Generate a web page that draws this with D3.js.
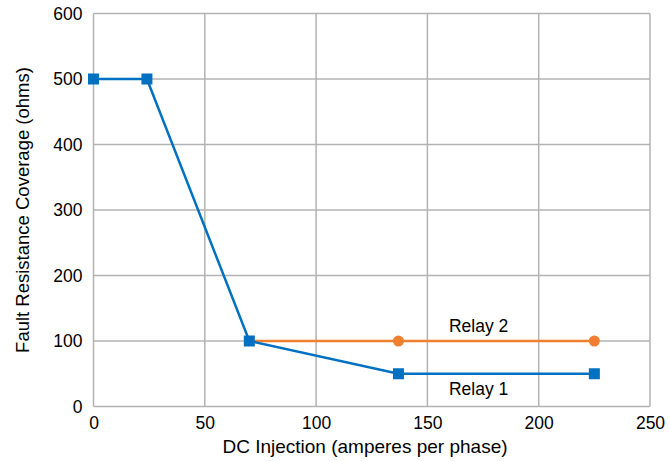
<!DOCTYPE html>
<html><head><meta charset="utf-8">
<script src="https://cdn.jsdelivr.net/npm/d3@7"></script>
<style>body{margin:0;background:#fff}svg{display:block}text{font-family:"Liberation Sans",Arial,sans-serif;fill:#000}</style>
</head><body>
<svg id="c" width="670" height="461"></svg>
<script>
const relay1X = [0, 24, 70, 137, 225];
const relay1Y = [500, 500, 100, 50, 50];
const relay2X = [70, 137, 225];
const relay2Y = [100, 100, 100];
const xTicks = [0, 50, 100, 150, 200, 250];
const yTicks = [0, 100, 200, 300, 400, 500, 600];
const seriesNames = ["Relay 1", "Relay 2"];

const svg = d3.select("#c");
const m = {l: 93.5, r: 650, t: 13.5, b: 406.5};
const x = d3.scaleLinear().domain([0, 250]).range([m.l, m.r]);
const y = d3.scaleLinear().domain([0, 600]).range([m.b, m.t]);

const grid = svg.append("g");
grid.selectAll("line.v").data(xTicks).join("line")
  .attr("x1", d => x(d)).attr("x2", d => x(d)).attr("y1", m.t).attr("y2", m.b)
  .attr("stroke", "#b3b3b3").attr("stroke-width", 1.5);
grid.selectAll("line.h").data(yTicks).join("line")
  .attr("y1", d => y(d)).attr("y2", d => y(d)).attr("x1", m.l).attr("x2", m.r)
  .attr("stroke", "#b3b3b3").attr("stroke-width", 1.5);

const xAxis = svg.append("g").attr("transform", `translate(0,${m.b})`)
  .call(d3.axisBottom(x).tickValues(xTicks).tickSize(0).tickPadding(10));
xAxis.select(".domain").remove();
xAxis.selectAll("text").attr("font-size", 17.5).attr("font-family", "Liberation Sans, Arial, sans-serif").attr("fill", "#000");

const yAxis = svg.append("g").attr("transform", `translate(${m.l},0)`)
  .call(d3.axisLeft(y).tickValues(yTicks).tickSize(0).tickPadding(11));
yAxis.select(".domain").remove();
yAxis.selectAll("text").attr("font-size", 17.5).attr("font-family", "Liberation Sans, Arial, sans-serif").attr("fill", "#000");

const line = d3.line().x(d => x(d[0])).y(d => y(d[1]));
const r1 = relay1X.map((v, i) => [v, relay1Y[i]]);
const r2 = relay2X.map((v, i) => [v, relay2Y[i]]);
const blue = "#0070c0", orange = "#f07f2f";

svg.append("path").datum(r2).attr("d", line).attr("fill", "none").attr("stroke", orange).attr("stroke-width", 2.5);
svg.selectAll("circle.r2").data(r2.slice(1)).join("circle")
  .attr("cx", d => x(d[0])).attr("cy", d => y(d[1])).attr("r", 5.5).attr("fill", orange);

svg.append("path").datum(r1).attr("d", line).attr("fill", "none").attr("stroke", blue).attr("stroke-width", 2.5);
svg.selectAll("rect.r1").data(r1).join("rect")
  .attr("x", d => x(d[0]) - 5.5).attr("y", d => y(d[1]) - 5.5).attr("width", 11).attr("height", 11).attr("fill", blue);

svg.append("text").attr("x", x(173)).attr("y", y(100) - 9).attr("text-anchor", "middle").attr("font-size", 17.5).text(seriesNames[1]);
svg.append("text").attr("x", x(173)).attr("y", y(50) + 21).attr("text-anchor", "middle").attr("font-size", 17.5).text(seriesNames[0]);

svg.append("text").attr("x", 365).attr("y", 453).attr("text-anchor", "middle").attr("font-size", 19).text("DC Injection (amperes per phase)");
svg.append("text").attr("transform", `translate(29,${(m.t + m.b) / 2}) rotate(-90)`).attr("text-anchor", "middle").attr("font-size", 18.5).text("Fault Resistance Coverage (ohms)");
</script>
</body></html>
